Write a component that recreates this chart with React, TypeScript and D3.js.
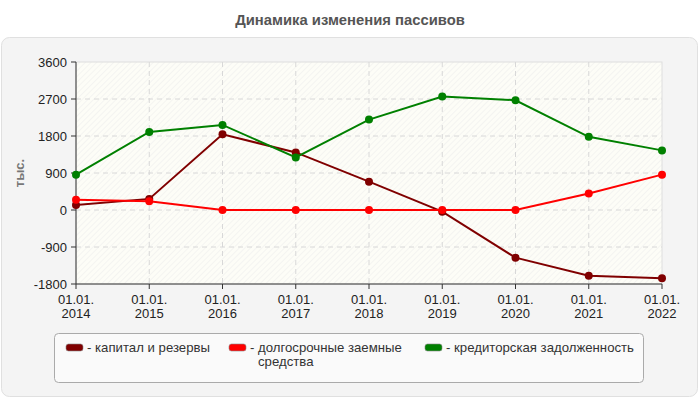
import React from "react";
import * as d3 from "d3";

const categories = ["01.01.2014", "01.01.2015", "01.01.2016", "01.01.2017", "01.01.2018", "01.01.2019", "01.01.2020", "01.01.2021", "01.01.2022"];
const capital = [120, 270, 1840, 1400, 690, -40, -1160, -1600, -1660];
const longTerm = [250, 210, 0, 0, 0, 0, 0, 400, 860];
const payables = [860, 1900, 2070, 1280, 2200, 2760, 2670, 1780, 1450];
const yTicks = [-1800, -900, 0, 900, 1800, 2700, 3600];

const series = [
  { name: ["- капитал и резервы"], values: capital, color: "#800000", lx: 66 },
  { name: ["- долгосрочные заемные", "средства"], values: longTerm, color: "#ff0000", lx: 229 },
  { name: ["- кредиторская задолженность"], values: payables, color: "#008000", lx: 425 },
];

export default function App() {
  const W = 700, H = 400;
  const x = d3.scalePoint<string>().domain(categories).range([76, 662]);
  const y = d3.scaleLinear().domain([-1800, 3600]).range([284, 62]);
  const line = d3.line<number>().x((_, i) => x(categories[i])!).y((d) => y(d));
  const font = "'Liberation Sans', Arial, sans-serif";
  return (
    <svg width={W} height={H} style={{ position: "absolute", left: 0, top: 0 }} fontFamily={font}>
      <defs>
        <pattern id="hatch" width="4" height="4" patternUnits="userSpaceOnUse" patternTransform="rotate(45)">
          <rect width="4" height="4" fill="#fdfdf7" />
          <line x1="0" y1="0" x2="0" y2="4" stroke="#ebebeb" strokeWidth="1" />
        </pattern>
      </defs>
      <rect width={W} height={H} fill="#fff" />
      <text x={350} y={25} textAnchor="middle" fontSize={14.8} fontWeight="bold" fill="#555">
        Динамика изменения пассивов
      </text>
      <rect x={1.5} y={37.5} width={696} height={359} rx={8} fill="#f4f4f4" stroke="#e0e0e0" />
      <rect x={76} y={62} width={586} height={222} fill="url(#hatch)" stroke="#dedede" />
      {yTicks.map((t) => (
        <g key={t}>
          {t !== -1800 && t !== 3600 && (
            <line x1={76} x2={662} y1={y(t)} y2={y(t)} stroke="#d8d8d8" strokeDasharray="5,4" />
          )}
          <line x1={71} x2={76} y1={y(t)} y2={y(t)} stroke="#333" />
          <text x={67} y={y(t) + 4.5} textAnchor="end" fontSize={13} fill="#222">{t}</text>
        </g>
      ))}
      {categories.map((c, i) => {
        const [d, yr] = [c.slice(0, 6), c.slice(6)];
        return (
          <g key={c}>
            {i > 0 && i < categories.length - 1 && (
              <line x1={x(c)} x2={x(c)} y1={62} y2={284} stroke="#d8d8d8" strokeDasharray="5,4" />
            )}
            <line x1={x(c)} x2={x(c)} y1={284} y2={289} stroke="#333" />
            <text x={x(c)} y={304} textAnchor="middle" fontSize={13} fill="#222">{d}</text>
            <text x={x(c)} y={318} textAnchor="middle" fontSize={13} fill="#222">{yr}</text>
          </g>
        );
      })}
      <line x1={76} x2={76} y1={62} y2={284} stroke="#333" />
      <line x1={76} x2={662} y1={284} y2={284} stroke="#333" />
      <text transform="translate(24,173) rotate(-90)" textAnchor="middle" fontSize={13} fontWeight="bold" fill="#777">тыс.</text>
      {series.map((s) => (
        <g key={s.color}>
          <path d={line(s.values)!} fill="none" stroke={s.color} strokeWidth={2} />
          {s.values.map((v, i) => (
            <circle key={i} cx={x(categories[i])} cy={y(v)} r={4} fill={s.color} />
          ))}
        </g>
      ))}
      <rect x={54.5} y={333.5} width={589} height={49} rx={4} fill="#fafafa" stroke="#aaa" />
      {series.map((s) => (
        <g key={"l" + s.color}>
          <rect x={s.lx} y={344} width={17} height={7} rx={2.5} fill={s.color} stroke="#888" strokeWidth={0.6} />
          {s.name.map((n, j) => (
            <text key={j} x={j === 0 ? s.lx + 21 : s.lx + 29} y={352 + j * 14} fontSize={13.2} fill="#333">{n}</text>
          ))}
        </g>
      ))}
    </svg>
  );
}
